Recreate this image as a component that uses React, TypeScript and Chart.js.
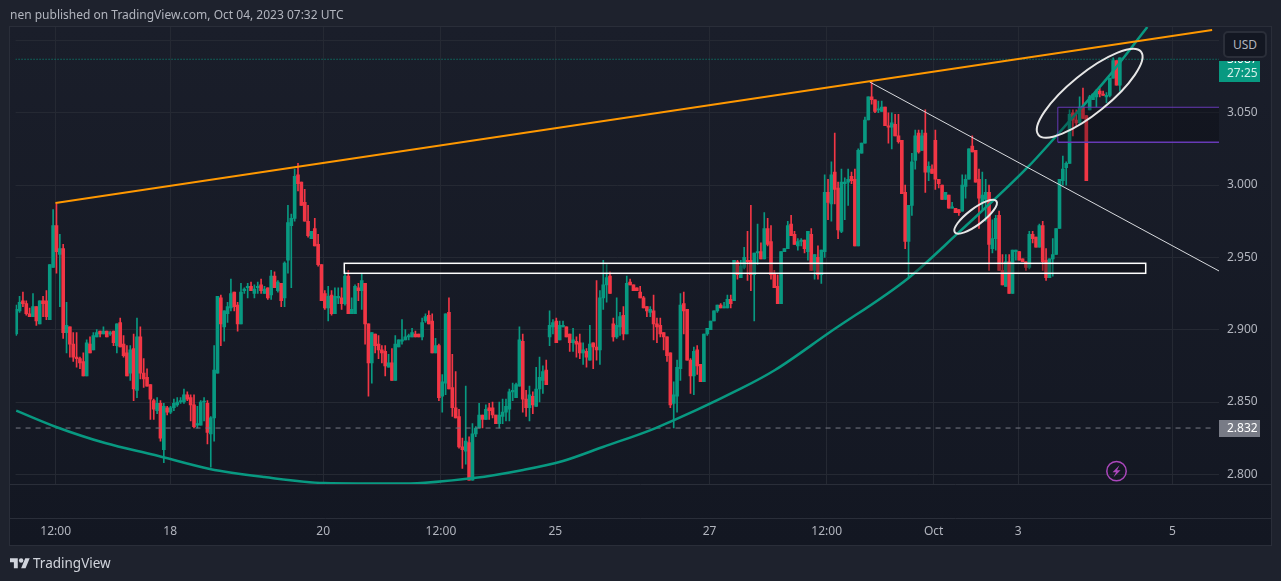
import React, { useEffect, useRef } from "react";
import { Chart, registerables } from "chart.js";

Chart.register(...registerables);

const FONT = "'Noto Sans', sans-serif";
const UP = "#089981";
const DOWN = "#f23645";

// hourly candles
const opens = [
  2.897,2.913,2.920,2.918,2.911,2.909,2.916,2.904,2.920,2.920,
  2.907,2.943,2.972,2.952,2.956,2.898,2.902,2.890,2.881,2.880,
  2.878,2.868,2.890,2.886,2.895,2.899,2.897,2.899,2.897,2.899,
  2.889,2.905,2.890,2.884,2.870,2.887,2.858,2.895,2.870,2.867,
  2.862,2.851,2.844,2.849,2.817,2.846,2.843,2.846,2.848,2.850,
  2.850,2.855,2.853,2.848,2.834,2.834,2.850,2.849,2.828,2.839,
  2.870,2.922,2.902,2.911,2.915,2.926,2.917,2.904,2.927,2.929,
  2.930,2.925,2.929,2.931,2.925,2.929,2.924,2.937,2.927,2.932,
  2.922,2.948,2.972,2.977,3.007,3.002,2.988,2.975,2.963,2.970,
  2.959,2.945,2.925,2.915,2.924,2.911,2.922,2.922,2.918,2.937,
  2.911,2.911,2.929,2.927,2.932,2.904,2.877,2.897,2.890,2.886,
  2.885,2.874,2.877,2.865,2.888,2.892,2.893,2.895,2.895,2.897,
  2.897,2.895,2.906,2.910,2.906,2.884,2.889,2.854,2.863,2.912,
  2.860,2.846,2.840,2.819,2.816,2.822,2.796,2.828,2.832,2.841,
  2.838,2.846,2.846,2.841,2.835,2.840,2.843,2.845,2.857,2.853,
  2.861,2.892,2.852,2.846,2.854,2.847,2.859,2.865,2.872,2.895,
  2.902,2.906,2.893,2.902,2.902,2.897,2.891,2.892,2.891,2.884,
  2.885,2.879,2.891,2.888,2.886,2.922,2.931,2.937,2.904,2.895,
  2.902,2.910,2.897,2.933,2.931,2.929,2.926,2.922,2.916,2.912,
  2.913,2.904,2.903,2.898,2.895,2.884,2.849,2.854,2.873,2.918,
  2.914,2.879,2.868,2.886,2.876,2.864,2.897,2.900,2.906,2.913,
  2.917,2.915,2.915,2.921,2.920,2.947,2.936,2.943,2.948,2.948,
  2.938,2.953,2.954,2.949,2.970,2.961,2.939,2.930,2.918,2.954,
  2.956,2.973,2.966,2.958,2.961,2.962,2.954,2.966,2.941,2.950,
  2.938,2.954,2.995,2.987,3.009,2.998,2.968,3.001,3.002,3.006,
  3.004,2.958,3.022,3.029,3.045,3.061,3.059,3.052,3.051,3.054,
  3.041,3.040,3.042,3.034,3.031,2.995,2.961,2.986,3.017,3.036,
  3.024,3.036,3.009,3.011,3.031,3.004,3.000,2.990,2.993,2.984,
  2.984,2.983,2.982,2.999,3.004,3.027,3.024,3.004,2.988,2.990,
  2.995,2.956,2.963,2.979,2.941,2.930,2.947,2.925,2.954,2.954,
  2.949,2.947,2.943,2.966,2.964,2.957,2.972,2.948,2.936,2.949,
  2.952,2.970,3.003,3.012,3.015,3.050,3.045,3.043,3.054,3.048,
  3.052,3.059,3.061,3.065,3.063,3.061,3.062,3.074,3.086,3.069,
];
const highs = [
  2.917,2.923,2.926,2.920,2.915,2.925,2.916,2.920,2.923,2.927,
  2.945,2.983,2.987,2.966,2.959,2.919,2.902,2.898,2.898,2.881,
  2.884,2.893,2.895,2.898,2.900,2.899,2.902,2.899,2.899,2.899,
  2.904,2.908,2.896,2.889,2.889,2.897,2.908,2.902,2.880,2.873,
  2.862,2.852,2.853,2.851,2.849,2.847,2.847,2.852,2.853,2.853,
  2.859,2.857,2.855,2.855,2.847,2.851,2.853,2.851,2.840,2.889,
  2.923,2.924,2.913,2.919,2.935,2.926,2.919,2.932,2.929,2.932,
  2.933,2.931,2.933,2.935,2.930,2.929,2.941,2.940,2.934,2.932,
  2.947,2.986,2.980,3.011,3.015,3.002,2.997,2.986,2.968,2.977,
  2.966,2.945,2.927,2.930,2.927,2.929,2.929,2.929,2.940,2.941,
  2.922,2.931,2.932,2.939,2.932,2.904,2.898,2.897,2.896,2.889,
  2.889,2.883,2.887,2.896,2.893,2.907,2.900,2.897,2.901,2.899,
  2.897,2.908,2.911,2.913,2.911,2.894,2.890,2.869,2.911,2.922,
  2.883,2.871,2.845,2.825,2.861,2.826,2.835,2.833,2.849,2.841,
  2.848,2.849,2.850,2.841,2.850,2.852,2.852,2.859,2.863,2.863,
  2.902,2.897,2.858,2.861,2.857,2.874,2.881,2.875,2.879,2.913,
  2.907,2.908,2.906,2.906,2.902,2.897,2.901,2.895,2.897,2.891,
  2.887,2.903,2.891,2.934,2.927,2.948,2.945,2.940,2.908,2.922,
  2.912,2.916,2.937,2.935,2.931,2.929,2.930,2.923,2.916,2.916,
  2.924,2.908,2.908,2.898,2.895,2.884,2.864,2.879,2.925,2.926,
  2.914,2.880,2.888,2.889,2.876,2.897,2.901,2.906,2.913,2.917,
  2.918,2.919,2.924,2.924,2.948,2.948,2.948,2.957,2.968,2.986,
  2.953,2.973,2.960,2.981,2.977,2.972,2.941,2.938,2.954,2.956,
  2.975,2.979,2.968,2.963,2.963,2.962,2.968,2.970,2.952,2.958,
  2.955,3.007,3.004,3.016,3.036,3.002,3.011,3.005,3.011,3.009,
  3.011,3.025,3.029,3.047,3.061,3.072,3.059,3.058,3.058,3.054,
  3.050,3.050,3.049,3.049,3.031,3.000,2.986,3.022,3.038,3.038,
  3.038,3.052,3.016,3.014,3.038,3.004,3.000,2.995,2.993,2.988,
  2.984,2.983,3.007,3.007,3.025,3.034,3.024,3.011,3.009,3.004,
  3.000,2.976,2.979,2.982,2.952,2.952,2.952,2.955,2.955,2.954,
  2.949,2.947,2.968,2.968,2.964,2.973,2.975,2.956,2.949,2.963,
  2.970,3.004,3.020,3.016,3.052,3.052,3.052,3.061,3.067,3.048,
  3.062,3.063,3.066,3.067,3.065,3.064,3.074,3.088,3.086,3.088,
];
const lows = [
  2.896,2.912,2.916,2.910,2.909,2.909,2.903,2.904,2.909,2.907,
  2.907,2.943,2.939,2.916,2.894,2.884,2.881,2.878,2.874,2.873,
  2.868,2.868,2.884,2.886,2.895,2.895,2.897,2.895,2.896,2.889,
  2.884,2.888,2.881,2.868,2.865,2.851,2.853,2.866,2.860,2.861,
  2.838,2.838,2.842,2.823,2.808,2.841,2.842,2.844,2.847,2.849,
  2.849,2.851,2.837,2.832,2.832,2.834,2.837,2.821,2.805,2.823,
  2.870,2.889,2.892,2.905,2.913,2.913,2.899,2.904,2.925,2.922,
  2.927,2.922,2.925,2.925,2.925,2.921,2.921,2.929,2.926,2.916,
  2.916,2.939,2.929,2.975,2.996,2.986,2.975,2.964,2.963,2.958,
  2.944,2.920,2.914,2.906,2.910,2.911,2.918,2.914,2.917,2.911,
  2.911,2.911,2.920,2.914,2.890,2.854,2.863,2.884,2.880,2.877,
  2.868,2.874,2.865,2.865,2.888,2.890,2.893,2.893,2.895,2.895,
  2.895,2.893,2.905,2.904,2.884,2.884,2.851,2.843,2.855,2.859,
  2.840,2.839,2.818,2.804,2.807,2.796,2.796,2.826,2.832,2.832,
  2.838,2.838,2.839,2.835,2.832,2.835,2.837,2.837,2.851,2.853,
  2.861,2.843,2.840,2.837,2.842,2.847,2.850,2.856,2.862,2.889,
  2.897,2.891,2.893,2.902,2.895,2.885,2.885,2.881,2.880,2.876,
  2.874,2.879,2.873,2.879,2.876,2.914,2.919,2.925,2.892,2.894,
  2.896,2.893,2.897,2.931,2.927,2.927,2.922,2.915,2.909,2.909,
  2.893,2.891,2.895,2.886,2.878,2.846,2.832,2.843,2.865,2.897,
  2.879,2.856,2.855,2.869,2.864,2.864,2.896,2.900,2.906,2.912,
  2.915,2.915,2.915,2.915,2.920,2.935,2.936,2.942,2.934,2.927,
  2.906,2.945,2.949,2.949,2.958,2.935,2.929,2.918,2.918,2.954,
  2.956,2.965,2.959,2.955,2.958,2.953,2.948,2.941,2.935,2.935,
  2.932,2.950,2.976,2.975,2.987,2.963,2.967,2.976,2.986,3.001,
  2.958,2.958,3.022,3.029,3.045,3.056,3.050,3.050,3.051,3.041,
  3.029,3.025,3.034,3.029,2.994,2.956,2.936,2.979,3.011,3.022,
  3.024,2.995,3.003,3.008,2.997,2.998,2.990,2.990,2.984,2.984,
  2.981,2.979,2.982,2.991,3.004,3.023,3.002,2.970,2.983,2.975,
  2.941,2.953,2.955,2.941,2.931,2.930,2.925,2.925,2.948,2.948,
  2.947,2.941,2.942,2.960,2.957,2.957,2.941,2.934,2.936,2.937,
  2.952,2.970,3.000,3.000,3.015,3.034,3.041,3.042,3.046,3.003,
  3.052,3.059,3.054,3.061,3.062,3.057,3.061,3.074,3.069,3.065,
];
const closes = [
  2.914,2.919,2.918,2.911,2.909,2.916,2.906,2.920,2.918,2.909,
  2.945,2.972,2.954,2.956,2.898,2.903,2.890,2.881,2.880,2.877,
  2.868,2.891,2.884,2.896,2.898,2.897,2.899,2.895,2.898,2.891,
  2.904,2.888,2.882,2.868,2.886,2.859,2.895,2.870,2.866,2.861,
  2.852,2.845,2.849,2.825,2.847,2.843,2.846,2.849,2.850,2.851,
  2.855,2.852,2.848,2.833,2.835,2.850,2.850,2.829,2.839,2.872,
  2.923,2.904,2.913,2.916,2.925,2.916,2.904,2.926,2.928,2.930,
  2.927,2.928,2.930,2.927,2.928,2.922,2.937,2.929,2.933,2.920,
  2.946,2.974,2.977,3.006,3.001,2.986,2.975,2.965,2.968,2.958,
  2.945,2.920,2.915,2.923,2.911,2.923,2.923,2.918,2.937,2.911,
  2.914,2.930,2.927,2.934,2.904,2.877,2.898,2.889,2.886,2.884,
  2.875,2.877,2.865,2.890,2.893,2.893,2.895,2.896,2.898,2.895,
  2.895,2.905,2.909,2.904,2.884,2.889,2.853,2.864,2.911,2.859,
  2.846,2.839,2.819,2.817,2.823,2.796,2.828,2.832,2.841,2.838,
  2.845,2.844,2.841,2.835,2.841,2.843,2.847,2.857,2.858,2.862,
  2.893,2.852,2.846,2.855,2.848,2.859,2.867,2.871,2.862,2.903,
  2.905,2.891,2.903,2.903,2.895,2.891,2.893,2.890,2.884,2.886,
  2.881,2.890,2.888,2.886,2.922,2.931,2.936,2.925,2.895,2.903,
  2.909,2.897,2.932,2.931,2.927,2.927,2.922,2.915,2.913,2.914,
  2.904,2.902,2.897,2.895,2.882,2.848,2.855,2.874,2.917,2.913,
  2.879,2.868,2.885,2.875,2.864,2.897,2.901,2.906,2.913,2.917,
  2.915,2.916,2.921,2.918,2.948,2.938,2.944,2.950,2.947,2.938,
  2.953,2.954,2.949,2.970,2.959,2.938,2.929,2.918,2.954,2.956,
  2.972,2.965,2.959,2.961,2.962,2.956,2.968,2.941,2.952,2.938,
  2.955,2.995,2.988,3.007,2.997,2.969,3.002,3.002,3.004,3.003,
  2.958,3.024,3.029,3.045,3.061,3.059,3.051,3.052,3.054,3.041,
  3.040,3.043,3.034,3.030,2.994,2.961,2.986,3.016,3.034,3.023,
  3.034,3.009,3.013,3.008,3.004,3.001,2.990,2.995,2.984,2.985,
  2.981,2.981,3.000,3.004,3.025,3.023,3.002,2.991,2.993,2.995,
  2.959,2.963,2.977,2.941,2.931,2.947,2.925,2.955,2.955,2.948,
  2.947,2.943,2.966,2.963,2.957,2.972,2.947,2.936,2.949,2.952,
  2.970,3.004,3.011,3.015,3.049,3.045,3.043,3.054,3.046,3.003,
  3.061,3.063,3.065,3.063,3.062,3.062,3.074,3.086,3.069,3.088,
];

const priceTicks = [2.8, 2.85, 2.9, 2.95, 3.0, 3.05, 3.1];
const timeTickBars = [11.76, 45.88, 91.5, 126.6, 160.7, 206.7, 241.6, 273.5, 298.7, 344.7];
const timeTickLabels = ["12:00", "18", "20", "12:00", "25", "27", "12:00", "Oct", "3", "5"];

// drawn trend lines, as [bar, price]
const orangeLine = [[11.7, 2.9876], [356.5, 3.1073]];
const whiteLine = [[254.4, 3.0713], [358.55, 2.9406]];
const greenCurve = [
  [0, 2.844], [11.7, 2.8329], [26.5, 2.8216], [41.3, 2.8133], [57.7, 2.8037], [74, 2.7981],
  [91.8, 2.794], [115.5, 2.7936], [136.3, 2.7974], [151.1, 2.803], [163, 2.8092], [174.9, 2.8189],
  [190.6, 2.832], [216.4, 2.8597], [226.2, 2.8721], [242.2, 2.8977], [266, 2.9358], [280.8, 2.9669],
  [301.6, 3.0125], [313.5, 3.043], [325.3, 3.0741], [337.2, 3.1093],
];
const lastPrice = 3.087;
const markedPrice = 2.832;

const X_MIN = -0.2;
const X_MAX = 358.55;
const Y_MIN = 2.7933;
const Y_MAX = 3.1093;

const toPoints = (pts: number[][]) => pts.map(([x, y]) => ({ x, y }));

const overlay = {
  id: "overlay",
  beforeDraw(chart: any) {
    const { ctx } = chart;
    ctx.save();
    const bg = ctx.createLinearGradient(0, 27, 0, 545);
    bg.addColorStop(0, "#1a1e2a");
    bg.addColorStop(1, "#131722");
    ctx.fillStyle = "#1e222d";
    ctx.fillRect(0, 0, 1281, 581);
    ctx.fillStyle = bg;
    ctx.fillRect(10, 27, 1261, 518);
    ctx.strokeStyle = "#2a2e39";
    ctx.lineWidth = 1;
    ctx.strokeRect(9.5, 26.5, 1262, 519);
    ctx.beginPath();
    ctx.moveTo(10, 484.5);
    ctx.lineTo(1271, 484.5);
    ctx.moveTo(10, 518.5);
    ctx.lineTo(1271, 518.5);
    ctx.stroke();
    ctx.restore();
  },
  afterDatasetsDraw(chart: any) {
    const { ctx, scales } = chart;
    const px = (v: number) => scales.x.getPixelForValue(v);
    const py = (v: number) => scales.y.getPixelForValue(v);
    ctx.save();

    // support box
    const bx = px(97.8);
    const bw = px(336.7) - bx;
    const by = py(2.9459);
    const bh = py(2.939) - by;
    ctx.fillStyle = "rgba(8,8,12,0.35)";
    ctx.fillRect(bx, by, bw, bh);
    ctx.strokeStyle = "#ffffff";
    ctx.lineWidth = 1.5;
    ctx.strokeRect(bx, by, bw, bh);

    // purple range box, open to the right
    const rx = px(310.5);
    const rr = px(X_MAX);
    const rt = py(3.0538);
    const rb = py(3.0296);
    ctx.fillStyle = "rgba(8,8,12,0.3)";
    ctx.fillRect(rx, rt, rr - rx, rb - rt);
    ctx.strokeStyle = "#673ab7";
    ctx.lineWidth = 1;
    ctx.beginPath();
    ctx.moveTo(rr, rt);
    ctx.lineTo(rx, rt);
    ctx.lineTo(rx, rb);
    ctx.stroke();
    ctx.lineWidth = 1.5;
    ctx.beginPath();
    ctx.moveTo(rx, rb);
    ctx.lineTo(rr, rb);
    ctx.stroke();

    // hand drawn ellipses
    ctx.strokeStyle = "#e6e6e6";
    ctx.lineWidth = 2;
    ctx.beginPath();
    ctx.ellipse(px(320), py(3.0635), 66, 20, (-39 * Math.PI) / 180, 0, Math.PI * 2);
    ctx.stroke();
    ctx.beginPath();
    ctx.ellipse(px(286), py(2.9781), 26, 8, (-37 * Math.PI) / 180, 0, Math.PI * 2);
    ctx.stroke();

    // lightning mark
    const ix = px(328);
    const iy = py(2.8022);
    ctx.strokeStyle = "#ab47bc";
    ctx.fillStyle = "#ab47bc";
    ctx.lineWidth = 1.5;
    ctx.beginPath();
    ctx.arc(ix, iy, 9.7, 0, Math.PI * 2);
    ctx.stroke();
    ctx.beginPath();
    ctx.moveTo(ix + 3, iy - 6);
    ctx.lineTo(ix - 4, iy + 1);
    ctx.lineTo(ix - 0.5, iy + 1);
    ctx.lineTo(ix - 3, iy + 6);
    ctx.lineTo(ix + 4, iy - 1);
    ctx.lineTo(ix + 0.5, iy - 1);
    ctx.closePath();
    ctx.fill();
    ctx.restore();
  },
  afterDraw(chart: any) {
    const { ctx } = chart;
    ctx.save();
    ctx.font = `12px ${FONT}`;
    ctx.textAlign = "left";
    ctx.textBaseline = "middle";

    // grey marked price label
    ctx.fillStyle = "#787b86";
    ctx.fillRect(1219, 420, 41, 17);
    ctx.fillStyle = "#ffffff";
    ctx.fillText(markedPrice.toFixed(3), 1227, 428.5);

    // last price label, its top is cut by the currency button
    ctx.fillStyle = UP;
    ctx.fillRect(1219, 61, 41, 21);
    ctx.beginPath();
    ctx.rect(1219, 61, 41, 21);
    ctx.clip();
    ctx.fillStyle = "#ffffff";
    ctx.fillText(lastPrice.toFixed(3), 1227, 60);
    ctx.fillStyle = "#d6efe9";
    ctx.fillText("27:25", 1227, 74);
    ctx.restore();
  },
};

const label: React.CSSProperties = {
  position: "absolute",
  fontFamily: FONT,
  whiteSpace: "nowrap",
};

const App: React.FC = () => {
  const canvasRef = useRef<HTMLCanvasElement>(null);

  useEffect(() => {
    document.body.style.margin = "0";
    document.body.style.background = "#1e222d";
    const bars = opens.map((_, i) => i);
    const colors = bars.map((i) => (closes[i] >= opens[i] ? UP : DOWN));

    const chart = new Chart(canvasRef.current as HTMLCanvasElement, {
      type: "bar",
      data: {
        datasets: [
          {
            data: bars.map((i) => ({ x: i, y: [lows[i], highs[i]] })),
            backgroundColor: colors,
            barThickness: 1,
            grouped: false,
            order: 6,
          },
          {
            data: bars.map((i) => ({ x: i, y: [opens[i], closes[i]] })),
            backgroundColor: colors,
            barThickness: 3,
            minBarLength: 1,
            grouped: false,
            order: 5,
          },
          {
            type: "line",
            data: toPoints(greenCurve),
            borderColor: UP,
            borderWidth: 2.5,
            cubicInterpolationMode: "monotone",
            pointRadius: 0,
            order: 3,
          },
          {
            type: "line",
            data: toPoints(whiteLine),
            borderColor: "#d8dade",
            borderWidth: 1,
            pointRadius: 0,
            order: 2,
          },
          {
            type: "line",
            data: toPoints(orangeLine),
            borderColor: "#ff9800",
            borderWidth: 2,
            pointRadius: 0,
            order: 1,
          },
          {
            type: "line",
            data: toPoints([[X_MIN, markedPrice], [357, markedPrice]]),
            borderColor: "#787b86",
            borderWidth: 1,
            borderDash: [5, 5],
            pointRadius: 0,
            order: 4,
          },
          {
            type: "line",
            data: toPoints([[X_MIN, lastPrice], [X_MAX, lastPrice]]),
            borderColor: UP,
            borderWidth: 1,
            borderDash: [1, 2],
            pointRadius: 0,
            order: 4,
          },
        ],
      } as any,
      options: {
        responsive: false,
        animation: false,
        events: [],
        layout: { padding: { left: 10, top: 27 } },
        plugins: { legend: { display: false }, tooltip: { enabled: false } },
        scales: {
          x: {
            type: "linear",
            min: X_MIN,
            max: X_MAX,
            offset: false,
            border: { display: false },
            grid: { color: "#252933", offset: false, drawTicks: false },
            afterBuildTicks: (s: any) => {
              s.ticks = timeTickBars.map((value) => ({ value }));
            },
            afterFit: (s: any) => {
              s.height = 97;
            },
            ticks: {
              autoSkip: false,
              maxRotation: 0,
              padding: 40,
              color: "#b2b5be",
              font: { family: FONT, size: 12 },
              callback: (_: any, i: number) => timeTickLabels[i],
            },
          },
          y: {
            position: "right",
            min: Y_MIN,
            max: Y_MAX,
            border: { display: false },
            grid: { color: "#252933", drawTicks: false },
            afterBuildTicks: (s: any) => {
              s.ticks = priceTicks.map((value) => ({ value }));
            },
            afterFit: (s: any) => {
              s.width = 62;
            },
            ticks: {
              padding: 8,
              crossAlign: "near",
              color: "#b2b5be",
              font: { family: FONT, size: 12 },
              callback: (v: any) => Number(v).toFixed(3),
            },
          },
        },
      } as any,
      plugins: [overlay],
    });

    return () => chart.destroy();
  }, []);

  return (
    <div style={{ position: "relative", width: 1281, height: 581, overflow: "hidden", background: "#1e222d" }}>
      <canvas ref={canvasRef} width={1281} height={581} style={{ display: "block" }} />
      <div style={{ ...label, left: 10, top: 6, fontSize: 12, lineHeight: "18px", color: "#b2b5be" }}>
        nen published on TradingView.com, Oct 04, 2023 07:32 UTC
      </div>
      <div
        style={{
          ...label,
          left: 1223,
          top: 31,
          width: 40,
          height: 23,
          border: "2px solid #2a2e39",
          borderRadius: 5,
          background: "#131722",
          color: "#b2b5be",
          fontSize: 12,
          lineHeight: "23px",
          textAlign: "center",
        }}
      >
        USD
      </div>
      <svg style={{ position: "absolute", left: 10, top: 556 }} width="20" height="14" viewBox="0 0 36 25">
        <path fill="#d1d4dc" d="M14 22H7V11H0V4h14v18zM28 22h-8l7.5-18h8L28 22z" />
        <circle fill="#d1d4dc" cx="20" cy="8" r="4" />
      </svg>
      <div style={{ ...label, left: 33, top: 553, fontSize: 13.5, lineHeight: "20px", color: "#d1d4dc" }}>
        TradingView
      </div>
    </div>
  );
};

export default App;
